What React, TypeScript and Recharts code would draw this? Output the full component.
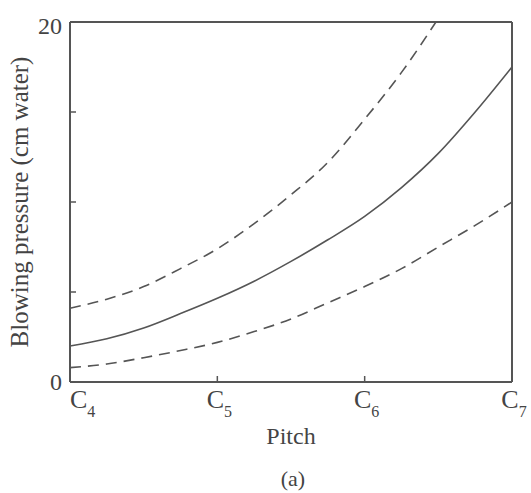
import { Line, LineChart, ReferenceLine, XAxis, YAxis } from "recharts";

// pitch in octaves above C4
const pitch = [0, 0.25, 0.5, 0.75, 1, 1.25, 1.5, 1.75, 2, 2.25, 2.5, 2.75, 3];
const upper = [4.1, 4.6, 5.3, 6.3, 7.4, 8.8, 10.4, 12.2, 14.6, 17.2, 20.2, null, null];
const middle = [2.0, 2.4, 3.0, 3.8, 4.65, 5.6, 6.7, 7.9, 9.2, 10.8, 12.7, 15.0, 17.5];
const lower = [0.8, 1.0, 1.35, 1.75, 2.2, 2.8, 3.5, 4.4, 5.3, 6.3, 7.5, 8.7, 10.0];

const pitchTicks = [0, 1, 2, 3];
const pitchLabels = ["4", "5", "6", "7"];
const pressureTicks = [0, 5, 10, 15, 20];
const labelledPressure = [0, 20];

const data = pitch.map((p, i) => ({ p, upper: upper[i], middle: middle[i], lower: lower[i] }));

const ink = "#555";
const font = "'Liberation Serif', 'DejaVu Serif', serif";

function PitchTick(props: any) {
  const { x, y, payload, index } = props;
  const first = index === 0;
  return (
    <g>
      {!first && index !== pitchTicks.length - 1 && (
        <line x1={x} x2={x} y1={y - 6} y2={y} stroke={ink} strokeWidth={1.5} />
      )}
      <text
        x={first ? x : x + 2}
        y={y + 26}
        textAnchor={first ? "start" : "middle"}
        fill="#444"
        fontFamily={font}
        fontSize={26}
      >
        C
        <tspan fontSize={16} dy={9}>
          {pitchLabels[pitchTicks.indexOf(payload.value)]}
        </tspan>
      </text>
    </g>
  );
}

function PressureTick(props: any) {
  const { x, y, payload } = props;
  return (
    <g>
      <line x1={x + 8} x2={x + 14} y1={y} y2={y} stroke={ink} strokeWidth={1.5} />
      {labelledPressure.includes(payload.value) && (
        <text x={x} y={y} dy={payload.value === 20 ? 12 : 8} textAnchor="end" fill="#444" fontFamily={font} fontSize={24}>
          {payload.value}
        </text>
      )}
    </g>
  );
}

export default function App() {
  return (
    <div style={{ position: "absolute", left: 0, top: 0, width: 531, height: 493, background: "#fff" }}>
      <LineChart width={531} height={493} data={data} margin={{ top: 22, right: 19, left: 0, bottom: 41 }}>
        <XAxis
          dataKey="p"
          type="number"
          domain={[0, 3]}
          ticks={pitchTicks}
          interval={0}
          height={70}
          tickLine={false}
          tickSize={0}
          tickMargin={0}
          tick={<PitchTick />}
          axisLine={{ stroke: ink, strokeWidth: 2 }}
          label={{
            value: "Pitch",
            position: "insideBottom",
            offset: 8,
            fontSize: 24,
            fontFamily: font,
            fill: "#444",
          }}
        />
        <YAxis
          type="number"
          domain={[0, 20]}
          allowDataOverflow
          ticks={pressureTicks}
          interval={0}
          width={70}
          tickLine={false}
          tickSize={0}
          tickMargin={8}
          tick={<PressureTick />}
          axisLine={{ stroke: ink, strokeWidth: 2 }}
          label={{
            value: "Blowing pressure (cm water)",
            angle: -90,
            position: "insideLeft",
            offset: 19,
            fontSize: 25,
            fontFamily: font,
            fill: "#444",
            style: { textAnchor: "middle" },
          }}
        />
        <ReferenceLine y={20} stroke={ink} strokeWidth={2} />
        <ReferenceLine x={3} stroke={ink} strokeWidth={2} />
        <Line
          type="monotone"
          dataKey="upper"
          stroke={ink}
          strokeWidth={1.6}
          strokeDasharray="11 7"
          dot={false}
          connectNulls={false}
          isAnimationActive={false}
        />
        <Line type="monotone" dataKey="middle" stroke={ink} strokeWidth={1.6} dot={false} isAnimationActive={false} />
        <Line
          type="monotone"
          dataKey="lower"
          stroke={ink}
          strokeWidth={1.6}
          strokeDasharray="11 7"
          dot={false}
          isAnimationActive={false}
        />
      </LineChart>
      <div
        style={{
          position: "absolute",
          left: 0,
          width: 586,
          top: 466,
          textAlign: "center",
          fontFamily: font,
          fontSize: 22,
          color: "#444",
        }}
      >
        (a)
      </div>
    </div>
  );
}
